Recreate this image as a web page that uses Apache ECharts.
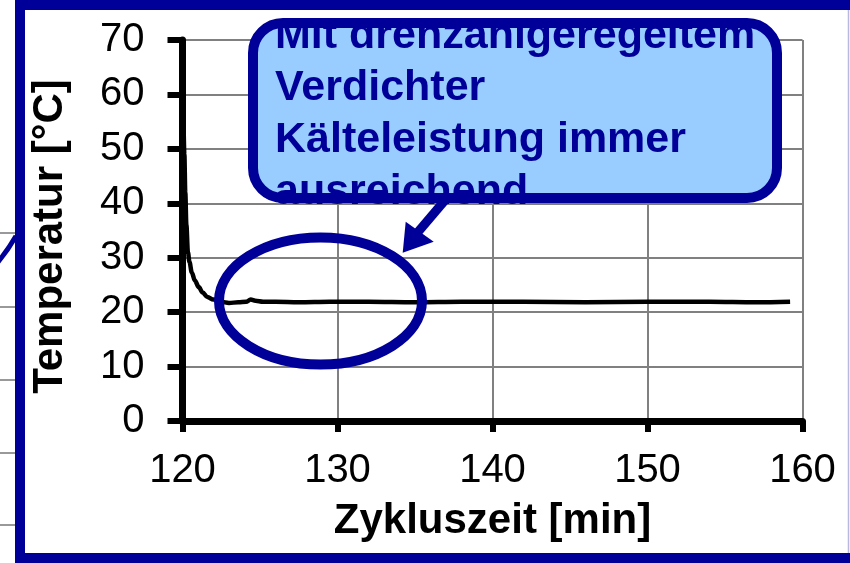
<!DOCTYPE html>
<html>
<head>
<meta charset="utf-8">
<script src="https://cdn.jsdelivr.net/npm/echarts@6/dist/echarts.min.js"></script>
<style>
html,body{margin:0;padding:0;background:#fff;}
#chart{width:850px;height:563px;}
</style>
</head>
<body>
<div id="chart"></div>
<script>
// Data
const timeMin = [120.0, 120.06, 120.12, 120.18, 120.25, 120.35, 120.45, 120.6, 120.8, 121.05, 121.3, 121.6, 122.0, 122.5, 123.0, 123.6, 124.1, 124.4, 124.7, 125.2, 126.0, 127.5, 129.5, 132.0, 135.0, 138.0, 142.0, 146.0, 150.0, 154.0, 157.0, 159.2];
const tempC   = [58, 54, 49, 42, 36, 31.0, 29.2, 27.3, 25.8, 24.6, 23.6, 22.8, 22.3, 21.9, 21.7, 21.8, 21.9, 22.3, 22.1, 21.9, 21.9, 21.8, 21.9, 21.9, 21.8, 21.9, 21.9, 21.8, 21.9, 21.9, 21.8, 21.9];
const xTicks = [120, 130, 140, 150, 160];
const yTicks = [0, 10, 20, 30, 40, 50, 60, 70];
const xTitle = 'Zykluszeit [min]';
const yTitle = 'Temperatur [°C]';
const calloutLines = ['Mit drehzahlgeregeltem', 'Verdichter', 'Kälteleistung immer', 'ausreichend'];

const FONT = '"Liberation Sans", Arial, sans-serif';
const NAVY = '#000099';

const chart = echarts.init(document.getElementById('chart'), null, {renderer: 'canvas'});
const seriesData = timeMin.map((t, i) => [t, tempC[i]]);

const option = {
  animation: false,
  backgroundColor: '#ffffff',
  grid: {left: 182.5, top: 40, right: 47.5, bottom: 142, containLabel: false},
  xAxis: {
    type: 'value', min: xTicks[0], max: xTicks[xTicks.length - 1], interval: 10,
    name: xTitle, nameLocation: 'middle', nameGap: 79,
    nameTextStyle: {fontSize: 42, fontWeight: 'bold', color: '#000', fontFamily: FONT},
    axisLine: {lineStyle: {color: '#000', width: 7}},
    axisTick: {length: 11, lineStyle: {color: '#000', width: 6}},
    axisLabel: {fontSize: 40, color: '#000', margin: 30, fontFamily: FONT},
    splitLine: {show: true, lineStyle: {color: '#808080', width: 2}}
  },
  yAxis: {
    type: 'value', min: yTicks[0], max: yTicks[yTicks.length - 1], interval: 10,
    name: yTitle, nameLocation: 'middle', nameGap: 111,
    nameTextStyle: {fontSize: 42, fontWeight: 'bold', color: '#000', fontFamily: FONT, padding: [0, 12, 0, 0]},
    axisLine: {show: true, lineStyle: {color: '#000', width: 7}},
    axisTick: {show: true, length: 15, lineStyle: {color: '#000', width: 6}},
    axisLabel: {fontSize: 40, color: '#000', margin: 38, fontFamily: FONT},
    splitLine: {show: true, lineStyle: {color: '#808080', width: 2}}
  },
  series: [{
    type: 'line', data: seriesData, showSymbol: false, smooth: 0.35, smoothMonotone: 'x',
    lineStyle: {color: '#000', width: 4.5}, z: 3
  }],
  graphic: [
    // highlight ellipse
    {type: 'ellipse', z: 100, shape: {cx: 320.5, cy: 301, rx: 101.5, ry: 63.5},
     style: {fill: 'none', stroke: NAVY, lineWidth: 10}},
    // arrow shaft
    {type: 'line', z: 101, shape: {x1: 452, y1: 192, x2: 418, y2: 232},
     style: {stroke: NAVY, lineWidth: 9}},
    // arrow head
    {type: 'polygon', z: 101, shape: {points: [[402.7, 252.7], [405.7, 221.7], [433.7, 241.7]]},
     style: {fill: NAVY}},
    // callout fill
    {type: 'rect', z: 110, shape: {x: 253, y: 23, width: 524, height: 175, r: 30},
     style: {fill: '#99CCFF', stroke: 'none'}},
    // callout text
    {type: 'text', z: 111, x: 275, y: 10,
     style: {text: calloutLines.join('\n'), font: 'bold 43px ' + FONT, fill: NAVY,
             lineHeight: 52, verticalAlign: 'top', align: 'left'}},
    // clip cover above the callout
    {type: 'rect', z: 112, shape: {x: 240, y: 10, width: 560, height: 8},
     style: {fill: '#ffffff'}},
    // callout border
    {type: 'rect', z: 113, shape: {x: 253, y: 23, width: 524, height: 175, r: 30},
     style: {fill: 'none', stroke: NAVY, lineWidth: 10}},
    // slide frame
    {type: 'rect', z: 120, shape: {x: 20, y: 5, width: 860, height: 553},
     style: {fill: 'none', stroke: NAVY, lineWidth: 10}},
    {type: 'line', z: 120, shape: {x1: 848.5, y1: 10, x2: 848.5, y2: 553},
     style: {stroke: '#b8b8e0', lineWidth: 1.5}},
    // fragments of the neighbouring chart outside the frame
    {type: 'line', z: 119, shape: {x1: 0, y1: 233, x2: 15, y2: 233}, style: {stroke: '#999', lineWidth: 2}},
    {type: 'line', z: 119, shape: {x1: 0, y1: 307, x2: 15, y2: 307}, style: {stroke: '#999', lineWidth: 2}},
    {type: 'line', z: 119, shape: {x1: 0, y1: 380, x2: 15, y2: 380}, style: {stroke: '#999', lineWidth: 2}},
    {type: 'line', z: 119, shape: {x1: 0, y1: 453, x2: 15, y2: 453}, style: {stroke: '#999', lineWidth: 2}},
    {type: 'line', z: 119, shape: {x1: 0, y1: 525, x2: 15, y2: 525}, style: {stroke: '#999', lineWidth: 2}},
    {type: 'bezierCurve', z: 119, shape: {x1: -2, y1: 262, x2: 16, y2: 236, cpx1: 8, cpy1: 250},
     style: {stroke: NAVY, lineWidth: 5, fill: 'none'}}
  ]
};
chart.setOption(option);
</script>
</body>
</html>
